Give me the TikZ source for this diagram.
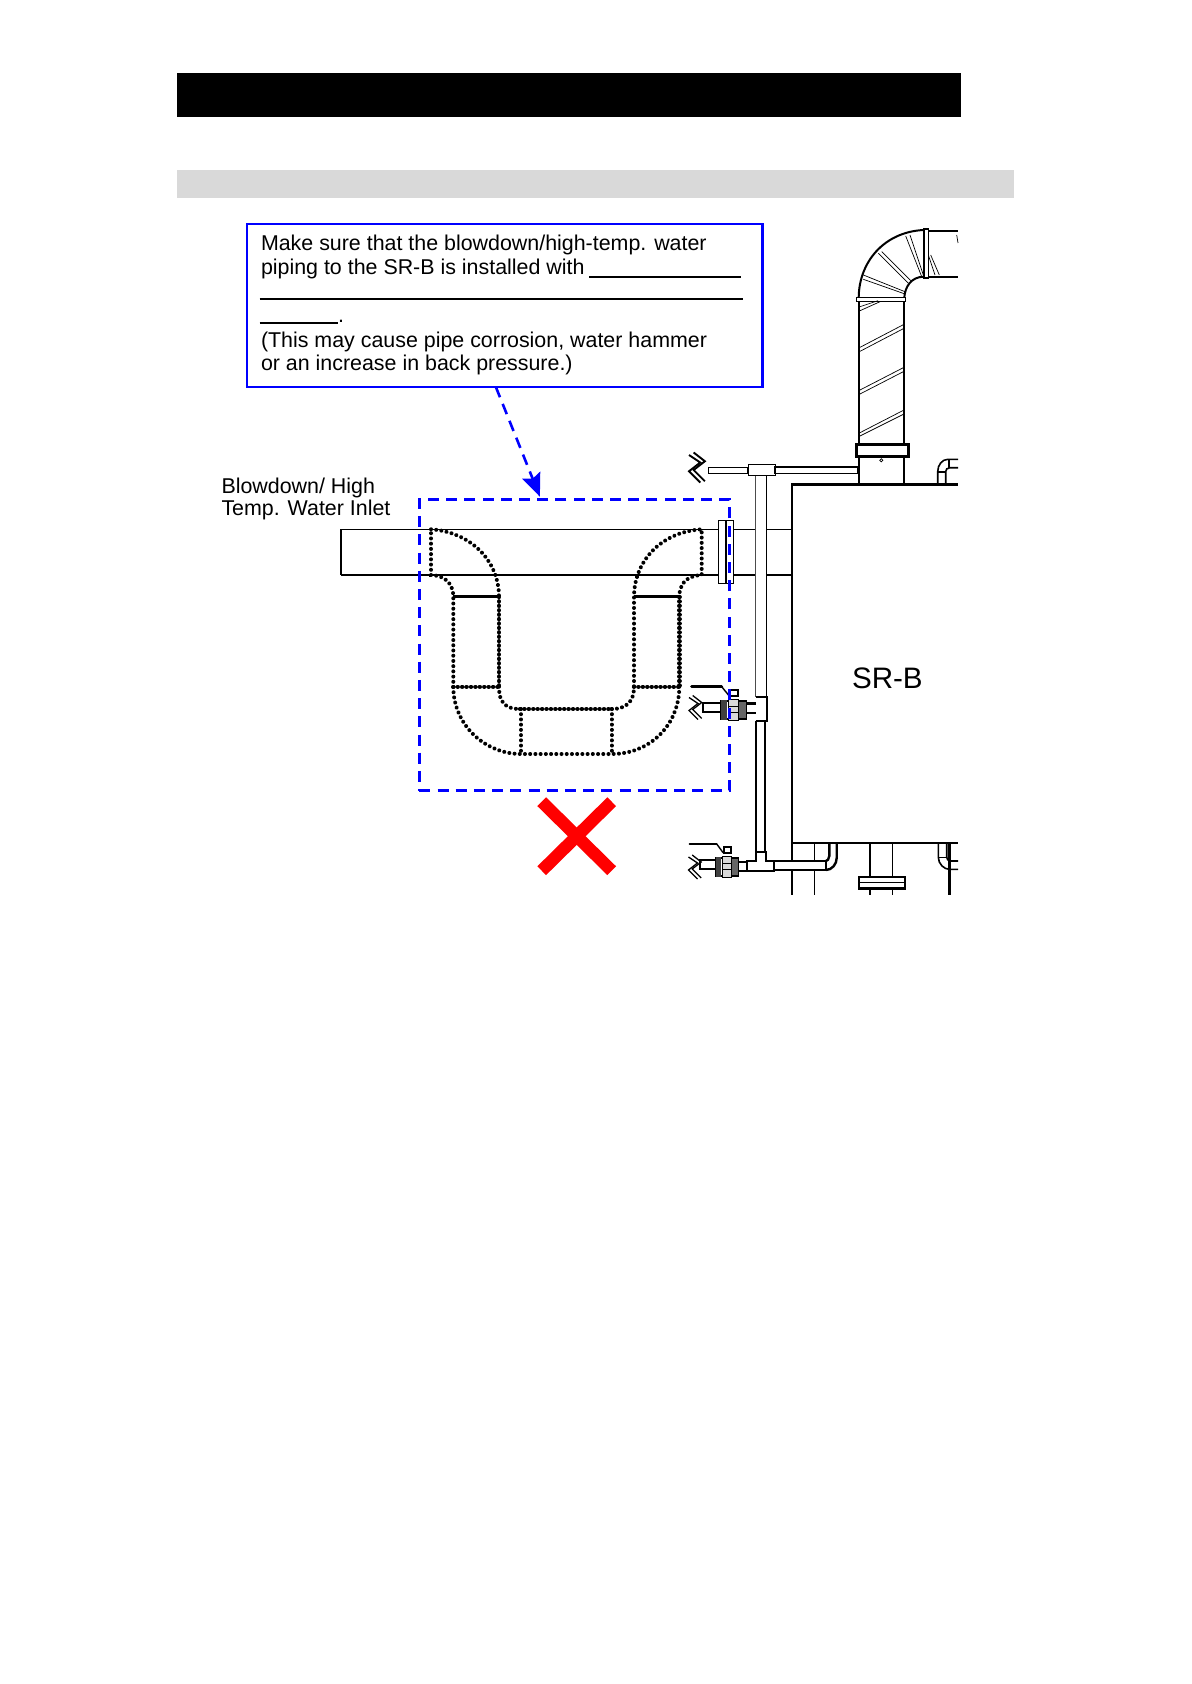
\documentclass[tikz,border=0pt]{standalone}
\usepackage{fontspec}
\setmainfont{Liberation Sans}
\usetikzlibrary{arrows.meta,calc}
\tikzset{
  x=0.5pt,y=-0.5pt,
  txt/.style={inner sep=0pt,outer sep=0pt,anchor=base west,font=\fontsize{10.7}{12}\selectfont},
  thinl/.style={line width=0.35pt,black},
  med/.style={line width=0.8pt,black},
  heavy/.style={line width=1.2pt,black},
  uline/.style={line width=1.25pt,black},
  dots/.style={line width=2pt,black,line cap=round,dash pattern=on 0.01pt off 2.6pt},
  densedots/.style={line width=2.2pt,black,line cap=round,dash pattern=on 0.01pt off 2.2pt},
  bluedash/.style={draw=blue,line width=1.3pt,dash pattern=on 5.5pt off 3.6pt},
  pics/valve/.style={code={
    \draw[line width=#1,black,line cap=round] (-28.3,-11.3) -- (1.7,-11.3);
    \draw[line width=0.7pt] (1.7,-11.3) -- (9,-2.3);
    \draw[med,fill=white] (10,-8) rectangle (18,-2);
    \draw[line width=1pt,fill=white] (-16.7,5.3) rectangle (0.7,13.7);
    \draw[line width=1pt,fill=white] (0.7,3) rectangle (25.7,20.7);
    \fill[black!75] (1,2) rectangle (7,22);
    \fill[black!60] (19,4) rectangle (25.7,20);
    \draw[thinl,fill=black!15] (8,1.5) rectangle (18,22);
    \draw[thinl] (8,8) -- (18,8) (8,14) -- (18,14);
  }},
  pics/breakmark/.style={code={
    \draw[line width=#1,black,line join=miter] (0,2) -- (9,8) -- (0,15) -- (9,24);
    \draw[line width=#1,black,line join=miter] (3.7,0) -- (12.7,7) -- (3.7,14) -- (12.7,23);
  }}
}
\begin{document}
\begin{tikzpicture}
\useasboundingbox (0,0) rectangle (1192,1684);
\fill[white] (0,0) rectangle (1192,1684);
% header bars
\node[fill=black,inner sep=0pt,outer sep=0pt,minimum width=392pt,minimum height=22pt,anchor=north west] (titlebar) at (177,73) {};
\node[fill=black!15,inner sep=0pt,outer sep=0pt,minimum width=418.5pt,minimum height=14pt,anchor=north west] (subbar) at (177,170) {};
% note box
\node[draw=blue,line width=1.3pt,fill=white,inner sep=0pt,outer sep=0pt,minimum width=257.8pt,minimum height=81.5pt,anchor=north west] (box) at (247,224) {};
\node[txt] (t1) at (261,251) {Make sure that the blowdown/high-temp. water};
\node[txt] (t2) at (261,275) {piping to the SR-B is installed with};
\draw[uline] (589,277) -- (741,277);
\draw[uline] (259.5,299) -- (742.5,299);
\draw[uline] (259.5,323) -- (338,323);
\node[txt] (t3) at (338,323) {.};
\node[txt] (t4) at (261,348) {(This may cause pipe corrosion, water hammer};
\node[txt] (t5) at (261,371) {or an increase in back pressure.)};
% inlet label
\node[txt] (l1) at (221.5,493) {Blowdown/ High};
\node[txt] (l2) at (221.5,515) {Temp. Water Inlet};
% SR-B
\node[inner sep=0pt,outer sep=0pt,anchor=base west,font=\fontsize{14.8}{16}\selectfont] (srb) at (852,688) {SR-B};
% vessel
\draw[med] (791.7,484) -- (791.7,895);
\draw[line width=1.25pt] (791,484.3) -- (958,484.3);
\draw[line width=0.9pt] (791,843) -- (958,843);
\draw[med] (814.3,843) -- (814.3,895);
\draw[med] (870,843) -- (870,876.7) (892.3,843) -- (892.3,876.7);
\draw[med] (870,888.3) -- (870,895) (892.3,888.3) -- (892.3,895);
\draw[heavy,fill=white] (858.7,876.7) rectangle (905,888.3);
\draw[med] (858.7,882.3) -- (905,882.3);
\draw[heavy] (949.3,843) -- (949.3,895);
% lower small elbow
\draw[med] (938.3,843) -- (938.3,857) .. controls (938.3,864) and (944,869.3) .. (949.3,869.3) -- (958,869.3);
\draw[med] (946.7,843) -- (946.7,857) .. controls (946.7,859) and (948,861) .. (950,861) -- (958,861);
\draw[thinl] (938.3,857) -- (946.7,857);
% upper small elbow
\draw[med] (937.7,484) -- (937.7,471.7) .. controls (937.7,465) and (942,459.3) .. (948,459.3) -- (958,459.3);
\draw[med] (945.7,484) -- (945.7,471.7) .. controls (945.7,469.5) and (947,467.7) .. (950,467.7) -- (958,467.7);
\draw[med] (937.7,471.7) -- (945.7,471.7) (949,459.3) -- (949,467.7);
% chimney
\draw[line width=1pt] (858.7,484) -- (858.7,299);
\draw[line width=1pt] (904.3,484) -- (904.3,299);
\node[draw=black,line width=1.4pt,fill=white,inner sep=0pt,outer sep=0pt,minimum width=26pt,minimum height=5.8pt,anchor=north west] (collar) at (856.5,444.7) {};
\draw[thinl] (881.3,460.3) circle (1.6);
\draw[thinl,fill=white] (856.7,297.5) rectangle (905.3,301);
\foreach \a/\b in {412/343,424/355,540/472,552/484,668/600,678/612}
  \draw[thinl] (860,210+\a/3) -- (904,210+\b/3);
\draw[thinl] (860,306.7) -- (878,300.7) (860,310.7) -- (880,301.7);
\draw[line width=1pt] (858.7,297.5) .. controls (859,262) and (884,232) .. (923.5,230);
\draw[line width=1pt] (904.3,297.5) .. controls (905,287) and (911,277) .. (923.5,276.7);
\draw[thinl] (863.3,275) -- (905,291.7) (863.3,279.3) -- (905,294);
\draw[thinl] (881.7,251.7) -- (910.7,280.7) (878.3,253.3) -- (908.3,283.3);
\draw[thinl] (905.7,236) -- (921.7,276.7) (910,235) -- (923.3,275);
\draw[thinl] (928.3,255) -- (935,275) (930.7,255) -- (939.3,275) (956.7,235) -- (958,243);
\draw[med,fill=white] (924,229.3) rectangle (928.3,278);
\draw[line width=1.1pt] (928.3,231) -- (958,231);
\draw[line width=1pt] (928.3,276.7) -- (958,276.7);
% horizontal inlet pipe
\draw[line width=0.7pt] (718,529.3) -- (341,529.3) -- (341,575);
\draw[line width=1.05pt] (340.6,575) -- (718,575);
\draw[line width=0.5pt] (734,529.3) -- (755.7,529.3) (766.7,529.3) -- (791.7,529.3);
\draw[line width=0.9pt] (734,575) -- (755.7,575) (766.7,575) -- (791.7,575);
\draw[thinl,fill=white] (718.3,520) rectangle (726,583);
\draw[thinl,fill=white] (726,520) rectangle (733.7,583);
\draw[line width=1.1pt] (726,520) -- (726,583);
% vertical riser and fittings
\draw[line width=0.45pt,black!70] (755.7,475.7) -- (755.7,696.7);
\draw[line width=0.65pt] (766.7,475.7) -- (766.7,696.7);
\draw[thinl,fill=white] (748,464) rectangle (775,475.7);
\draw[med,fill=white] (708.3,467.3) rectangle (748,473.3);
\draw[med,fill=white] (775,466.7) rectangle (858,473.3);
\draw[med,fill=white] (755.7,696.7) -- (766.7,696.7) -- (766.7,720.7) -- (755.7,720.7);
\draw[heavy] (755.7,720.7) -- (766,720.7);
\draw[line width=0.65pt] (756,720.7) -- (756,852);
\draw[line width=1.1pt] (765,720.7) -- (765,852);
% lower tee
\draw[heavy,fill=white] (756,851.7) -- (766,851.7) -- (766,861) -- (774,861) -- (774,871) -- (746.7,871) -- (746.7,861) -- (756,861) -- cycle;
\draw[med,fill=white] (774,861) rectangle (826,870);
\draw[heavy] (829.3,843) -- (829.3,856) .. controls (829.3,859) and (827,861) .. (826,861);
\draw[heavy] (836.7,843) -- (836.7,858) .. controls (836.7,864) and (832,870) .. (826,870);
% valves
\draw[heavy] (745.7,703.5) -- (755.7,703.5);
\draw[med] (745.7,713) -- (755.7,713);
\pic at (720,698) {valve=1.5pt};
\pic at (689,695.5) {breakmark=0.65pt};
\draw[med] (739,861.7) -- (746.7,861.7) (739,870.7) -- (746.7,870.7);
\pic[xscale=0.9] at (715,855) {valve=0.9pt};
\pic at (688.5,855) {breakmark=0.65pt};
\pic[scale=1.25] at (689,452.5) {breakmark=0.95pt};
% dotted (wrong) trap piping
\draw[dots] (431,529.3) .. controls (470,532) and (499,560) .. (499,597);
\draw[densedots] (499,597) -- (499,686.7);
\draw[dots] (499,686.7) .. controls (499,702) and (505,709) .. (520,709);
\draw[densedots] (520,709) -- (611.7,709);
\draw[dots] (611.7,709) .. controls (626,709) and (634,702) .. (634,686.7) -- (634,597) .. controls (634,562) and (660,532) .. (701.7,529.3) -- (701.7,575) .. controls (685,576) and (679.3,585) .. (679.3,597);
\draw[densedots] (679.3,597) -- (679.3,686.7);
\draw[dots] (679.3,686.7) .. controls (679.3,725) and (650,754) .. (611.7,754) -- (521,754) .. controls (485,754) and (453.3,725) .. (453.3,686.7) -- (453.3,597) .. controls (453.3,585) and (447,576) .. (431,575) -- (431,529.3);
\draw[line width=1.6pt] (453.3,596.7) -- (499,596.7);
\draw[line width=1.6pt] (634,596.7) -- (679.3,596.7);
\draw[densedots] (453.3,686.7) -- (499,686.7);
\draw[densedots] (634,686.7) -- (679.3,686.7);
\draw[dots] (521,709) -- (521,754) (611.7,709) -- (611.7,754);
% blue dashed zone and arrow
\node[bluedash,inner sep=0pt,outer sep=0pt,minimum width=155pt,minimum height=145.7pt,anchor=north west] (zone) at (419.3,499.3) {};
\draw[bluedash,-{Stealth[length=11.5pt,width=9.5pt,inset=1.8pt]}] ($(box.south west)!.4827!(box.south east)$) -- ($(zone.north west)!.389!(zone.north east)+(0,1.3pt)$);
% red cross
\draw[red,line width=6.2pt] (541.7,801.7) -- (611.7,870.7);
\draw[red,line width=6.2pt] (611.7,801.7) -- (541.7,870.7);
\end{tikzpicture}
\end{document}
